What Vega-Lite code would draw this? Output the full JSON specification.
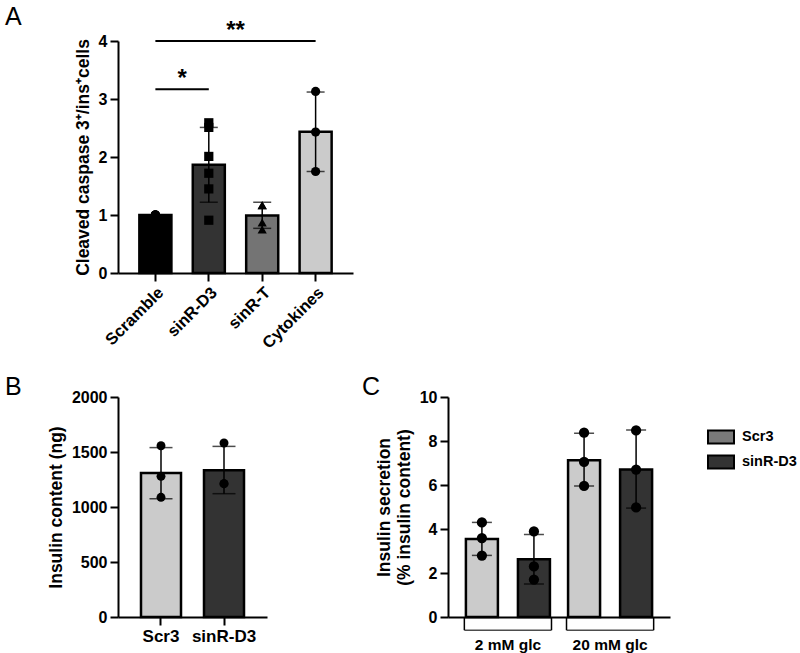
{
  "$schema": "https://vega.github.io/schema/vega-lite/v6.json",
  "padding": {"left": 5, "top": 5, "right": 5, "bottom": 5},
  "config": {
    "font": "Liberation Sans",
    "view": {"stroke": null},
    "axis": {
      "domainColor": "black", "domainWidth": 2, "tickColor": "black", "tickWidth": 2, "tickSize": 8,
      "labelColor": "black", "labelFont": "Liberation Sans", "labelFontWeight": "bold", "labelFontSize": 16,
      "titleColor": "black", "titleFont": "Liberation Sans", "titleFontWeight": "bold", "titleFontSize": 17.5,
      "grid": false, "labelPadding": 3, "titlePadding": 6
    },
    "title": {"font": "Liberation Sans", "fontSize": 25, "fontWeight": "normal", "color": "black", "anchor": "start", "frame": "group", "offset": 0}
  },
  "datasets": {
    "A_bars": [
      {"cond": "Scramble", "mean": 1.0, "lo": null, "hi": null},
      {"cond": "sinR-D3", "mean": 1.865, "lo": 1.22, "hi": 2.51},
      {"cond": "sinR-T", "mean": 0.99, "lo": 0.77, "hi": 1.22},
      {"cond": "Cytokines", "mean": 2.437, "lo": 1.75, "hi": 3.12}
    ],
    "A_pts": [
      {"cond": "Scramble", "val": 1.0}, {"cond": "Scramble", "val": 1.0}, {"cond": "Scramble", "val": 1.0},
      {"cond": "Scramble", "val": 1.0}, {"cond": "Scramble", "val": 1.0}, {"cond": "Scramble", "val": 1.0},
      {"cond": "sinR-D3", "val": 2.51}, {"cond": "sinR-D3", "val": 2.59}, {"cond": "sinR-D3", "val": 2.01},
      {"cond": "sinR-D3", "val": 1.72}, {"cond": "sinR-D3", "val": 1.45}, {"cond": "sinR-D3", "val": 0.91},
      {"cond": "sinR-T", "val": 1.17}, {"cond": "sinR-T", "val": 1.17}, {"cond": "sinR-T", "val": 0.75}, {"cond": "sinR-T", "val": 0.87},
      {"cond": "Cytokines", "val": 3.13}, {"cond": "Cytokines", "val": 2.43}, {"cond": "Cytokines", "val": 1.75}
    ],
    "A_sig": [
      {"a": "Scramble", "b": "sinR-D3", "mid": "sinR-D3", "level": 3.17, "label": "*"},
      {"a": "Scramble", "b": "Cytokines", "mid": "sinR-T", "level": 4.0, "label": "**"}
    ],
    "B_bars": [
      {"grp": "Scr3", "mean": 1308, "lo": 1075, "hi": 1540},
      {"grp": "sinR-D3", "mean": 1335, "lo": 1121, "hi": 1551}
    ],
    "B_pts": [
      {"grp": "Scr3", "val": 1557}, {"grp": "Scr3", "val": 1279}, {"grp": "Scr3", "val": 1088},
      {"grp": "sinR-D3", "val": 1582}, {"grp": "sinR-D3", "val": 1212}, {"grp": "sinR-D3", "val": 1212}
    ],
    "C_bars": [
      {"glc": "2 mM glc", "grp": "Scr3", "mean": 3.55, "lo": 2.8, "hi": 4.3},
      {"glc": "2 mM glc", "grp": "sinR-D3", "mean": 2.62, "lo": 1.5, "hi": 3.75},
      {"glc": "20 mM glc", "grp": "Scr3", "mean": 7.12, "lo": 5.95, "hi": 8.35},
      {"glc": "20 mM glc", "grp": "sinR-D3", "mean": 6.7, "lo": 4.95, "hi": 8.5}
    ],
    "C_pts": [
      {"glc": "2 mM glc", "grp": "Scr3", "val": 4.3}, {"glc": "2 mM glc", "grp": "Scr3", "val": 3.59}, {"glc": "2 mM glc", "grp": "Scr3", "val": 2.79},
      {"glc": "2 mM glc", "grp": "sinR-D3", "val": 3.89}, {"glc": "2 mM glc", "grp": "sinR-D3", "val": 2.3}, {"glc": "2 mM glc", "grp": "sinR-D3", "val": 1.7},
      {"glc": "20 mM glc", "grp": "Scr3", "val": 8.38}, {"glc": "20 mM glc", "grp": "Scr3", "val": 7.05}, {"glc": "20 mM glc", "grp": "Scr3", "val": 5.96},
      {"glc": "20 mM glc", "grp": "sinR-D3", "val": 8.48}, {"glc": "20 mM glc", "grp": "sinR-D3", "val": 6.7}, {"glc": "20 mM glc", "grp": "sinR-D3", "val": 4.98}
    ]
  },
  "columns": 2,
  "bounds": "flush",
  "spacing": {"row": 124, "column": 95},
  "resolve": {"scale": {"fill": "independent", "shape": "independent", "color": "independent"}},
  "concat": [
    {
      "width": 235, "height": 232,
      "title": {"text": "A", "dx": -113, "dy": 15},
      "layer": [
        {
          "data": {"name": "A_bars"},
          "mark": {"type": "bar", "stroke": "black", "strokeWidth": 2.5},
          "encoding": {
            "x": {"field": "cond", "type": "nominal", "scale": {"domain": ["Scramble", "sinR-D3", "sinR-T", "Cytokines"], "paddingInner": 0.4, "paddingOuter": 0.4},
                  "axis": {"title": null, "labelAngle": -45, "labelFontSize": 16.5}},
            "y": {"field": "mean", "type": "quantitative", "scale": {"domain": [0, 4], "nice": false},
                  "axis": {"title": "Cleaved caspase 3⁺/ins⁺cells", "values": [0, 1, 2, 3, 4], "format": "d"}},
            "fill": {"field": "cond", "type": "nominal", "scale": {"domain": ["Scramble", "sinR-D3", "sinR-T", "Cytokines"], "range": ["#000000", "#333333", "#747474", "#cbcbcb"]}, "legend": null}
          }
        },
        {
          "data": {"name": "A_bars"},
          "mark": {"type": "rule", "color": "black", "strokeWidth": 1.5},
          "encoding": {
            "x": {"field": "cond", "type": "nominal"},
            "y": {"field": "lo", "type": "quantitative"},
            "y2": {"field": "hi"}
          }
        },
        {
          "data": {"name": "A_bars"},
          "mark": {"type": "tick", "color": "black", "thickness": 1.5, "size": 18},
          "encoding": {"x": {"field": "cond", "type": "nominal"}, "y": {"field": "lo", "type": "quantitative"}}
        },
        {
          "data": {"name": "A_bars"},
          "mark": {"type": "tick", "color": "black", "thickness": 1.5, "size": 18},
          "encoding": {"x": {"field": "cond", "type": "nominal"}, "y": {"field": "hi", "type": "quantitative"}}
        },
        {
          "data": {"name": "A_pts"},
          "mark": {"type": "point", "filled": true, "color": "black", "opacity": 1, "size": 85},
          "encoding": {
            "x": {"field": "cond", "type": "nominal"},
            "y": {"field": "val", "type": "quantitative"},
            "shape": {"field": "cond", "type": "nominal", "scale": {"domain": ["Scramble", "sinR-D3", "sinR-T", "Cytokines"], "range": ["circle", "square", "triangle-up", "circle"]}, "legend": null}
          }
        },
        {
          "data": {"name": "A_sig"},
          "mark": {"type": "rule", "color": "black", "strokeWidth": 2},
          "encoding": {
            "x": {"field": "a", "type": "nominal"},
            "x2": {"field": "b"},
            "y": {"field": "level", "type": "quantitative"}
          }
        },
        {
          "data": {"name": "A_sig"},
          "mark": {"type": "text", "fontSize": 24, "fontWeight": "bold", "baseline": "alphabetic", "align": "center", "color": "black", "dy": -3},
          "encoding": {
            "x": {"field": "mid", "type": "nominal", "bandPosition": -0.333},
            "y": {"field": "level", "type": "quantitative"},
            "text": {"field": "label"}
          }
        }
      ]
    },
    {
      "width": 1, "height": 1,
      "data": {"values": [{}]},
      "mark": {"type": "point", "opacity": 0},
      "encoding": {}
    },
    {
      "width": 149, "height": 220,
      "title": {"text": "B", "dx": -113, "dy": 15},
      "layer": [
        {
          "data": {"name": "B_bars"},
          "mark": {"type": "bar", "stroke": "black", "strokeWidth": 2.5},
          "encoding": {
            "x": {"field": "grp", "type": "nominal", "scale": {"domain": ["Scr3", "sinR-D3"], "paddingInner": 0.365, "paddingOuter": 0.365},
                  "axis": {"title": null, "labelAngle": 0, "labelFontSize": 17}},
            "y": {"field": "mean", "type": "quantitative", "scale": {"domain": [0, 2000], "nice": false},
                  "axis": {"title": "Insulin content (ng)", "values": [0, 500, 1000, 1500, 2000], "format": "d"}},
            "fill": {"field": "grp", "type": "nominal", "scale": {"domain": ["Scr3", "sinR-D3"], "range": ["#cbcbcb", "#333333"]}, "legend": null}
          }
        },
        {
          "data": {"name": "B_bars"},
          "mark": {"type": "rule", "color": "black", "strokeWidth": 1.5},
          "encoding": {"x": {"field": "grp", "type": "nominal"}, "y": {"field": "lo", "type": "quantitative"}, "y2": {"field": "hi"}}
        },
        {
          "data": {"name": "B_bars"},
          "mark": {"type": "tick", "color": "black", "thickness": 1.5, "size": 23},
          "encoding": {"x": {"field": "grp", "type": "nominal"}, "y": {"field": "lo", "type": "quantitative"}}
        },
        {
          "data": {"name": "B_bars"},
          "mark": {"type": "tick", "color": "black", "thickness": 1.5, "size": 23},
          "encoding": {"x": {"field": "grp", "type": "nominal"}, "y": {"field": "hi", "type": "quantitative"}}
        },
        {
          "data": {"name": "B_pts"},
          "mark": {"type": "circle", "color": "black", "opacity": 1, "size": 80},
          "encoding": {"x": {"field": "grp", "type": "nominal"}, "y": {"field": "val", "type": "quantitative"}}
        }
      ]
    },
    {
      "width": 222, "height": 220,
      "title": {"text": "C", "dx": -86, "dy": 15},
      "layer": [
        {
          "data": {"name": "C_bars"},
          "mark": {"type": "bar", "stroke": "black", "strokeWidth": 2.5},
          "encoding": {
            "x": {"field": "glc", "type": "nominal", "scale": {"domain": ["2 mM glc", "20 mM glc"], "paddingInner": 0.147, "paddingOuter": 0.16},
                  "axis": {"title": null, "labelAngle": 0, "ticks": false, "tickSize": 0, "labelPadding": 20, "labelFontSize": 15.5}},
            "xOffset": {"field": "grp", "type": "nominal", "scale": {"domain": ["Scr3", "sinR-D3"], "paddingInner": 0.385, "paddingOuter": 0.03}},
            "y": {"field": "mean", "type": "quantitative", "scale": {"domain": [0, 10], "nice": false},
                  "axis": {"title": ["Insulin secretion", "(% insulin content)"], "titleLineHeight": 20, "values": [0, 2, 4, 6, 8, 10]}},
            "fill": {"field": "grp", "type": "nominal", "scale": {"domain": ["Scr3", "sinR-D3"], "range": ["#cbcbcb", "#333333"]}, "legend": null}
          }
        },
        {
          "data": {"name": "C_bars"},
          "mark": {"type": "square", "opacity": 1, "size": 0},
          "encoding": {
            "color": {"field": "grp", "type": "nominal", "scale": {"range": ["#7a7a7a", "#333333"]},
                      "legend": {"title": null, "orient": "none", "legendX": 259, "legendY": 26,
                                 "symbolType": "M-1,-0.5H1V0.5H-1Z", "symbolSize": 676, "symbolStrokeColor": "black", "symbolStrokeWidth": 2, "symbolOpacity": 1,
                                 "labelFont": "Liberation Sans", "labelFontWeight": "bold", "labelFontSize": 14.5, "labelColor": "black", "labelOffset": 7, "rowPadding": -8}}
          }
        },
        {
          "data": {"name": "C_bars"},
          "mark": {"type": "rule", "color": "black", "strokeWidth": 1.5},
          "encoding": {"x": {"field": "glc", "type": "nominal"}, "xOffset": {"field": "grp", "type": "nominal"}, "y": {"field": "lo", "type": "quantitative"}, "y2": {"field": "hi"}}
        },
        {
          "data": {"name": "C_bars"},
          "mark": {"type": "tick", "color": "black", "thickness": 1.5, "size": 20},
          "encoding": {"x": {"field": "glc", "type": "nominal"}, "xOffset": {"field": "grp", "type": "nominal"}, "y": {"field": "lo", "type": "quantitative"}}
        },
        {
          "data": {"name": "C_bars"},
          "mark": {"type": "tick", "color": "black", "thickness": 1.5, "size": 20},
          "encoding": {"x": {"field": "glc", "type": "nominal"}, "xOffset": {"field": "grp", "type": "nominal"}, "y": {"field": "hi", "type": "quantitative"}}
        },
        {
          "data": {"name": "C_pts"},
          "mark": {"type": "circle", "color": "black", "opacity": 1, "size": 105},
          "encoding": {"x": {"field": "glc", "type": "nominal"}, "xOffset": {"field": "grp", "type": "nominal"}, "y": {"field": "val", "type": "quantitative"}}
        },
        {
          "data": {"name": "C_bars"},
          "transform": [{"filter": "datum.grp === 'Scr3'"}],
          "mark": {"type": "tick", "color": "black", "thickness": 1.5, "size": 87},
          "encoding": {"x": {"field": "glc", "type": "nominal"}, "y": {"datum": -0.6}}
        },
        {
          "data": {"name": "C_bars"},
          "transform": [{"filter": "datum.grp === 'Scr3'"}],
          "mark": {"type": "rule", "color": "black", "strokeWidth": 1.5},
          "encoding": {"x": {"field": "glc", "type": "nominal", "bandPosition": 0}, "y": {"datum": 0}, "y2": {"datum": -0.6}}
        },
        {
          "data": {"name": "C_bars"},
          "transform": [{"filter": "datum.grp === 'Scr3'"}],
          "mark": {"type": "rule", "color": "black", "strokeWidth": 1.5},
          "encoding": {"x": {"field": "glc", "type": "nominal", "bandPosition": 1}, "y": {"datum": 0}, "y2": {"datum": -0.6}}
        }
      ]
    }
  ]
}
